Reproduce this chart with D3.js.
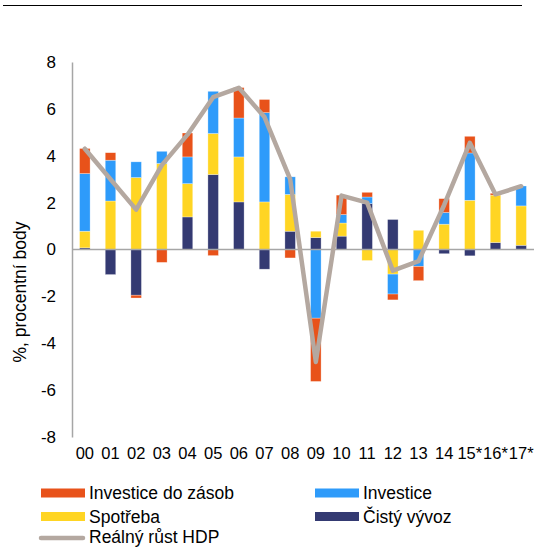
<!DOCTYPE html>
<html>
<head>
<meta charset="utf-8">
<script src="https://cdn.jsdelivr.net/npm/d3@7/dist/d3.min.js"></script>
<style>
  body { margin: 0; background: #fff; }
  svg text { font-family: "Liberation Sans", Arial, sans-serif; fill: #000; }
</style>
</head>
<body>
<script>
// data
var years = ["00","01","02","03","04","05","06","07","08","09","10","11","12","13","14","15*","16*","17*"];
var cistyVyvoz = [0.07,-1.07,-1.95,0,1.39,3.2,2.03,-0.84,0.78,0.51,0.57,1.96,1.28,0,-0.18,-0.27,0.3,0.18];
var spotreba   = [0.71,2.07,3.07,3.67,1.42,1.75,1.92,2.03,1.57,0.27,0.56,-0.47,-1.05,0.82,1.08,2.1,2.02,1.68];
var investice  = [2.46,1.74,0.67,0.52,1.14,1.8,1.66,3.81,0.75,-2.93,0.36,0.28,-0.85,-0.72,0.5,2.02,0,0.85];
var zasoby     = [1.07,0.32,-0.12,-0.55,1.02,-0.26,1.3,0.56,-0.36,-2.7,0.83,0.2,-0.25,-0.61,0.59,0.71,0.08,0];
var rustHDP    = [4.3,3.0,1.7,3.6,4.9,6.5,6.9,5.65,3.0,-4.8,2.3,2.0,-0.9,-0.5,1.9,4.55,2.35,2.7];
var yTicks = [-8,-6,-4,-2,0,2,4,6,8];

var W = 534, H = 547;
var svg = d3.select("body").append("svg").attr("width", W).attr("height", H);

// top rule
svg.append("line").attr("x1",3).attr("x2",522).attr("y1",5.5).attr("y2",5.5)
   .attr("stroke","#000").attr("stroke-width",1.2);

var x = d3.scaleBand().domain(years).range([72, 534]).paddingInner(0.59).paddingOuter(0.295);
var y = d3.scaleLinear().domain([-8, 8]).range([437, 62]);

var keys = ["vyvoz","spotreba","investice","zasoby"];
var colors = {vyvoz:"#343A72", spotreba:"#FFD523", investice:"#2E9BFA", zasoby:"#E8521A"};

var table = years.map(function(d,i){
  return {year:d, vyvoz:cistyVyvoz[i], spotreba:spotreba[i], investice:investice[i], zasoby:zasoby[i]};
});
var series = d3.stack().keys(keys).offset(d3.stackOffsetDiverging)(table);

// y axis (plain hyphen for negatives, as in the original)
var yAxis = svg.append("g").attr("transform","translate(72,0)")
  .call(d3.axisLeft(y).tickValues(yTicks).tickSize(0).tickPadding(16)
        .tickFormat(function(d){ return String(d); }));
yAxis.select(".domain").attr("stroke","#A6A6A6").attr("stroke-width",1.5);
yAxis.selectAll("text").style("font-size","17px").style("font-family","Liberation Sans, Arial, sans-serif");

// x axis labels
var xAxis = svg.append("g").attr("transform","translate(0,437)")
  .call(d3.axisBottom(x).tickSize(0).tickPadding(10));
xAxis.select(".domain").remove();
xAxis.selectAll("text").style("font-size","16.5px").style("font-family","Liberation Sans, Arial, sans-serif");

// bars
svg.append("g").selectAll("g").data(series).enter().append("g")
  .attr("fill", function(d){ return colors[d.key]; })
  .selectAll("rect").data(function(d){ return d; }).enter().append("rect")
  .attr("x", function(d){ return x(d.data.year); })
  .attr("y", function(d){ return y(Math.max(d[0], d[1])); })
  .attr("height", function(d){ return Math.abs(y(d[0]) - y(d[1])); })
  .attr("width", x.bandwidth())
  .attr("stroke","rgba(255,255,255,0.5)").attr("stroke-width",0.6);

// zero line
svg.append("line").attr("x1",72).attr("x2",534).attr("y1",y(0)).attr("y2",y(0))
   .attr("stroke","#A6A6A6").attr("stroke-width",1.5);

// real GDP growth line
var line = d3.line()
  .x(function(d,i){ return x(years[i]) + x.bandwidth()/2; })
  .y(function(d){ return y(d); });
svg.append("path").datum(rustHDP).attr("d", line)
  .attr("fill","none").attr("stroke","#B4A8A0").attr("stroke-width",4.5)
  .attr("stroke-linejoin","round").attr("stroke-linecap","round");

// y label
svg.append("text").attr("transform","translate(26,292) rotate(-90)")
  .attr("text-anchor","middle").style("font-size","17.5px").text("%, procentní body");

// legend
var legend = [
  {name:"Investice do zásob", color:colors.zasoby, x:41, y:493, type:"rect"},
  {name:"Investice", color:colors.investice, x:315, y:493, type:"rect"},
  {name:"Spotřeba", color:colors.spotreba, x:41, y:516.5, type:"rect"},
  {name:"Čistý vývoz", color:colors.vyvoz, x:315, y:516.5, type:"rect"},
  {name:"Reálný růst HDP", color:"#B4A8A0", x:41, y:537, type:"line"}
];
var lg = svg.append("g").selectAll("g").data(legend).enter().append("g");
lg.filter(function(d){ return d.type=="rect"; }).append("rect")
  .attr("x", function(d){ return d.x; }).attr("y", function(d){ return d.y-4.5; })
  .attr("width", 44).attr("height", 9).attr("fill", function(d){ return d.color; });
lg.filter(function(d){ return d.type=="line"; }).append("line")
  .attr("x1", function(d){ return d.x; }).attr("x2", function(d){ return d.x+42; })
  .attr("y1", function(d){ return d.y+1; }).attr("y2", function(d){ return d.y+1; })
  .attr("stroke", function(d){ return d.color; }).attr("stroke-width",4.5).attr("stroke-linecap","round");
lg.append("text")
  .attr("x", function(d){ return d.x+48; }).attr("y", function(d){ return d.y; })
  .attr("dy","0.35em").style("font-size","17.5px").text(function(d){ return d.name; });
</script>
</body>
</html>
